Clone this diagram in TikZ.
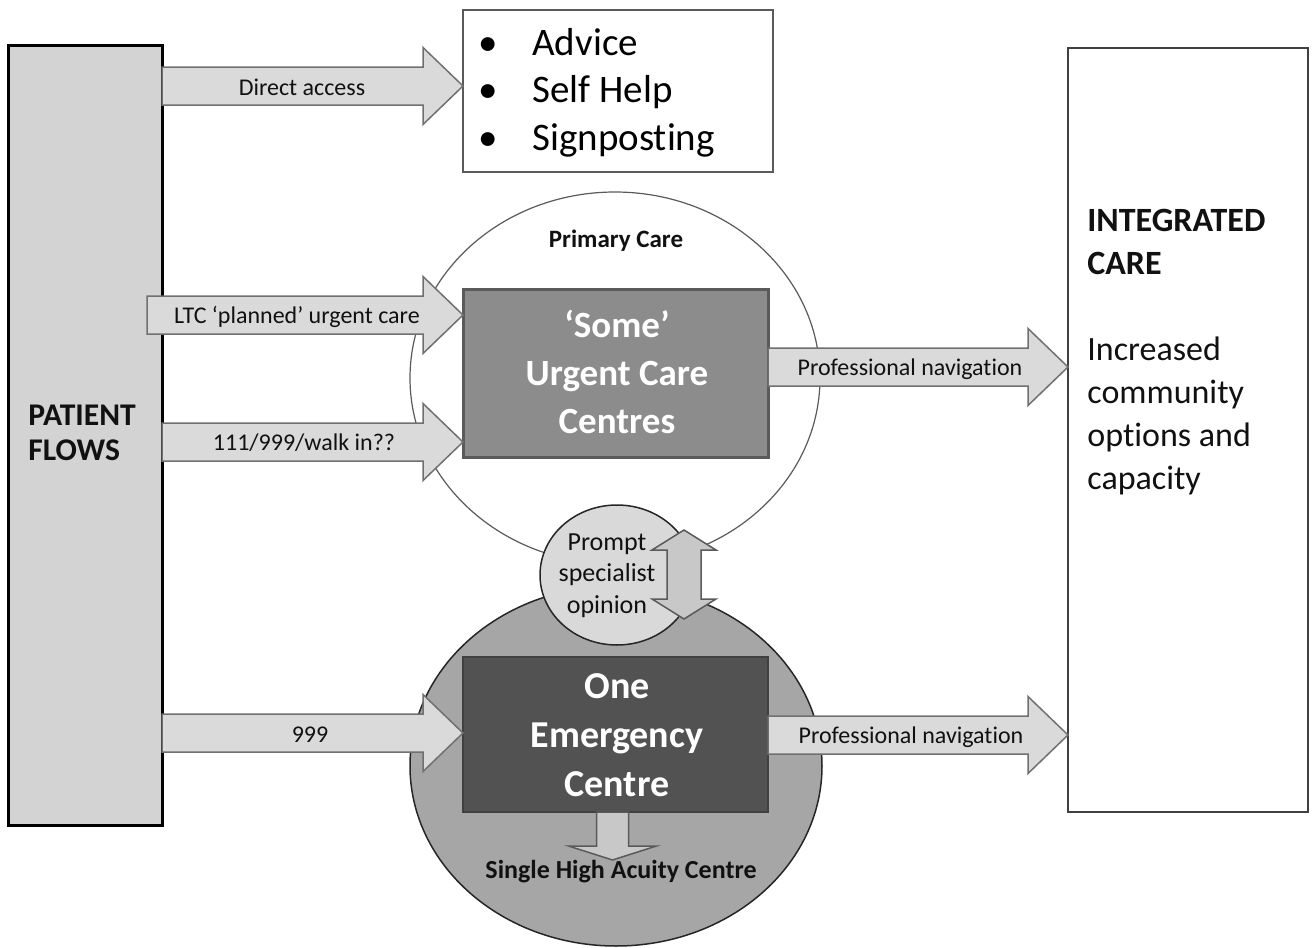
\documentclass[tikz,border=0pt]{standalone}
\usepackage{fontspec}
\setmainfont[Ligatures={TeX,NoCommon}]{Carlito}
\usetikzlibrary{fit,shapes.geometric,calc}
\newcommand\tiBreak{\kern0pt }
\definecolor{pffill}{HTML}{D3D3D3}
\definecolor{arrfill}{HTML}{DADADA}
\definecolor{arredge}{HTML}{707070}
\definecolor{ucfill}{HTML}{8C8C8C}
\definecolor{ucedge}{HTML}{5A5A5A}
\definecolor{ecfill}{HTML}{525252}
\definecolor{ecedge}{HTML}{404040}
\definecolor{ecirc}{HTML}{A6A6A6}
\definecolor{prfill}{HTML}{D9D9D9}
\definecolor{dblfill}{HTML}{C8C8C8}
\definecolor{edgedk}{HTML}{262626}
\definecolor{ellline}{HTML}{5A5A5A}
\definecolor{txt}{HTML}{111111}
\tikzset{
  boxshape/.style={draw, inner sep=0pt, outer sep=0pt},
  ellshape/.style={ellipse, draw, inner sep=0pt, outer sep=0pt},
  barrow/.style={draw=arredge, fill=arrfill, line width=0.75pt, line join=miter},
  lbl/.style={inner sep=0pt, anchor=base, text=txt, font=\fontsize{12}{14}\selectfont},
  multi/.style={inner sep=0pt, anchor=base},
}
\newcommand\blockarrow[3][0]{%
  \draw[barrow] let \p1=($(#2)+(#1,0)$), \p2=(#3) in
    (\x1,\y1+9.5pt) -- (\x2-20pt,\y1+9.5pt) -- (\x2-20pt,\y1+19.25pt) -- (\x2,\y1)
    -- (\x2-20pt,\y1-19.25pt) -- (\x2-20pt,\y1-9.5pt) -- (\x1,\y1-9.5pt) -- cycle;}
\begin{document}
\begin{tikzpicture}[x=0.5pt,y=-0.5pt]
\useasboundingbox (0,0) rectangle (1314,948);
% boxes
\node[boxshape, fit={(8,45) (162,825)}, fill=pffill, draw=black, line width=1.5pt] (pf) {};
\node[boxshape, fit={(463,10) (773,172)}, fill=white, draw=ucedge, line width=0.8pt] (adv) {};
\node[boxshape, fit={(1068,48) (1308,812)}, fill=white, draw=ecedge, line width=1pt] (ic) {};
% circles
\node[ellshape, draw=ellline, fill=white, line width=0.6pt, minimum width=205pt, minimum height=186pt] (pc) at (615,378) {};
\node[ellshape, draw=edgedk, fill=ecirc, line width=0.75pt, minimum width=206pt, minimum height=180pt] (ecc) at (616,766) {};
\node[ellshape, draw=edgedk, fill=prfill, line width=0.75pt, minimum width=77pt, minimum height=70pt] (ps) at (617,575) {};
% double arrow
\coordinate (dbl) at (684,574);
\draw[draw=ucedge, fill=dblfill, line width=0.75pt] ($(dbl)+(0,-44)$) -- ++(32,20) -- ++(-15,0) -- ++(0,49) -- ++(15,0)
  -- ++(-32,20) -- ++(-32,-20) -- ++(15,0) -- ++(0,-49) -- ++(-15,0) -- cycle;
% centre boxes
\node[boxshape, fit={(463,289) (768,457)}, fill=ucfill, draw=ucedge, line width=1.5pt] (uc) {};
\node[boxshape, fit={(463,657) (768,812)}, fill=ecfill, draw=ecedge, line width=1pt] (ec) {};
% rows for arrows
\coordinate (rDA) at (0,86);
\coordinate (rLTC) at (0,315);
\coordinate (rW) at (0,442);
\coordinate (r999) at (0,733);
\coordinate (rPN1) at (0,367);
\coordinate (rPN2) at (0,735);
\blockarrow{pf.east |- rDA}{adv.west |- rDA}
\blockarrow[-15]{pf.east |- rLTC}{uc.west |- rLTC}
\blockarrow{pf.east |- rW}{uc.west |- rW}
\blockarrow{pf.east |- r999}{ec.west |- r999}
\blockarrow{uc.east |- rPN1}{ic.west |- rPN1}
\blockarrow{ec.east |- rPN2}{ic.west |- rPN2}
% down arrow
\draw[draw=ucedge, fill=dblfill, line width=0.75pt] ($(ec.south)+(-19,0)$) -- ++(32,0) -- ++(0,34) -- ++(28,0)
  -- ++(-44,14) -- ++(-44,-14) -- ++(28,0) -- cycle;
% labels
\node[lbl] (tDA) at (302,95) {Direct access};
\node[lbl] (tLTC) at (297,323) {LTC `planned' urgent care};
\node[lbl] (tW) at (304,450) {111/999/walk in??};
\node[lbl] (t999) at (310,742) {999};
\node[lbl] (tPN1) at (910,375) {Professional navigat\tiBreak ion};
\node[lbl] (tPN2) at (911,743) {Professional navigat\tiBreak ion};
\node[lbl, font=\bfseries\fontsize{12.5}{14}\selectfont] (tpc) at (616,247) {Primary Care};
\node[multi, anchor=base west, text=black, font=\fontsize{19.5}{23.75}\selectfont] (list) at (478,55)
  {\begin{tabular}[t]{@{}l@{\hspace{17.3pt}}l@{}}\textbullet & Advice\\ \textbullet & Self Help\\ \textbullet & Signpost\tiBreak ing\end{tabular}};
\node[multi, anchor=base west, text=txt, font=\bfseries\fontsize{15.8}{17.5}\selectfont] (tpf) at (28,425)
  {\begin{tabular}[t]{@{}l@{}}PATIENT\\FLOWS\end{tabular}};
\node[multi, anchor=base west, text=txt, font=\fontsize{17}{21.5}\selectfont] (tic) at (1087,231)
  {\begin{tabular}[t]{@{}l@{}}\textbf{INTEGRATED}\\\textbf{CARE}\\[21.5pt]Increased\\community\\options and\\capacity\end{tabular}};
\node[multi, text=white, font=\bfseries\fontsize{18.5}{24}\selectfont] (tuc) at (617,337)
  {\begin{tabular}[t]{@{}c@{}}`Some'\\Urgent Care\\Centres\end{tabular}};
\node[multi, text=white, font=\bfseries\fontsize{19}{24.5}\selectfont] (tec) at (617,698)
  {\begin{tabular}[t]{@{}c@{}}One\\Emergency\\Centre\end{tabular}};
\node[multi, text=txt, font=\fontsize{13}{15.75}\selectfont] (tps) at (607,550)
  {\begin{tabular}[t]{@{}c@{}}Prompt\\specialist\\opinion\end{tabular}};
\node[lbl, font=\bfseries\fontsize{13}{15}\selectfont] (tsh) at (621,878) {Single High Acuity Centre};
\end{tikzpicture}
\end{document}
